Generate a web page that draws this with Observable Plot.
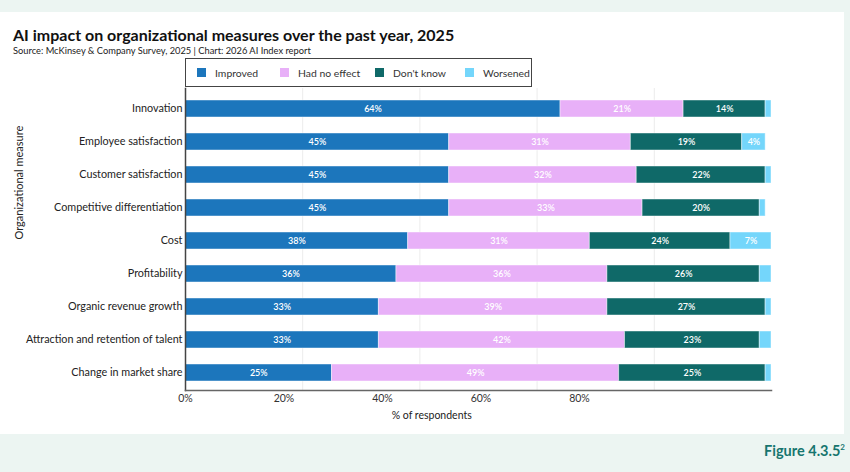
<!DOCTYPE html>
<html>
<head>
<meta charset="utf-8">
<script src="https://cdn.jsdelivr.net/npm/d3@7"></script>
<script src="https://cdn.jsdelivr.net/npm/@observablehq/plot@0.6"></script>
<style>
  html, body { margin: 0; padding: 0; }
  body { width: 850px; height: 472px; background: #ecf5f2; position: relative; overflow: hidden;
         font-family: Lato, "Open Sans", sans-serif; color: #222; }
  #card { position: absolute; left: 0; top: 12px; width: 844px; height: 422px; background: #fff; }
  #title { position: absolute; left: 13px; top: 25px; font-size: 16px; font-weight: 700; color: #111; white-space: nowrap; }
  #subtitle { position: absolute; left: 13px; top: 45px; font-size: 9.3px; color: #222; white-space: nowrap; }
  #legend { position: absolute; left: 185px; top: 58px; width: 347px; height: 29px; border: 1.5px solid #444;
            background: #fff; display: flex; align-items: center; padding-left: 11px; box-sizing: border-box;
            font-size: 10.4px; color: #333; white-space: nowrap; }
  #legend .item { display: flex; align-items: center; flex-shrink: 0; }
  #legend .item:nth-child(1) { width: 83px; }
  #legend .item:nth-child(2) { width: 95px; }
  #legend .item:nth-child(3) { width: 90px; }
  #legend .sw { width: 9px; height: 9px; margin-right: 9px; flex-shrink: 0; }
  #chart { position: absolute; left: 0; top: 0; }
  #figure { position: absolute; right: 5px; top: 442px; font-size: 14.5px; font-weight: 700; color: #17756f; }
  #figure sup { font-size: 8px; }
</style>
</head>
<body>
<div id="card"></div>
<div id="chart"></div>
<div id="title">AI impact on organizational measures over the past year, 2025</div>
<div id="subtitle">Source: McKinsey &amp; Company Survey, 2025 | Chart: 2026 AI Index report</div>
<div id="legend"></div>
<div id="figure">Figure 4.3.5<sup>2</sup></div>
<script>
// Organizational measures, top to bottom
const measures = [
  "Innovation",
  "Employee satisfaction",
  "Customer satisfaction",
  "Competitive differentiation",
  "Cost",
  "Profitability",
  "Organic revenue growth",
  "Attraction and retention of talent",
  "Change in market share"
];
// Response categories and their colours
const responses = ["Improved", "Had no effect", "Don't know", "Worsened"];
const responseColors = ["#1c76bc", "#e8b0f8", "#0f6968", "#74d6fb"];

// Share of respondents (%) per measure, one array per response
const improved   = [64, 45, 45, 45, 38, 36, 33, 33, 25];
const noEffect   = [21, 31, 32, 33, 31, 36, 39, 42, 49];
const dontKnow   = [14, 19, 22, 20, 24, 26, 27, 23, 25];
const worsened   = [ 1,  4,  1,  1,  7,  2,  1,  2,  1];

// Axis ticks and their labels
const gridTicks = [20, 40, 60, 80];
const tickLabels = [0, 20, 40, 60, 80];
// the tick labels are laid out on a 0–119 span across the same width
const tickLabelSpan = 119;

const series = [improved, noEffect, dontKnow, worsened];
const data = [];
measures.forEach((m, i) => {
  responses.forEach((r, j) => data.push({measure: m, response: r, value: series[j][i]}));
});

// legend
const legend = document.getElementById("legend");
responses.forEach((r, i) => {
  const item = document.createElement("div");
  item.className = "item";
  item.innerHTML = `<div class="sw" style="background:${responseColors[i]}"></div><span>${r}</span>`;
  legend.appendChild(item);
});

const stackOpts = {x: "value", y: "measure", fill: "response", order: responses};

const chart = Plot.plot({
  width: 850,
  height: 434,
  marginLeft: 185,
  marginRight: 79,
  marginTop: 88,
  marginBottom: 44,
  style: {fontFamily: "Lato, 'Open Sans', sans-serif", background: "transparent", overflow: "visible"},
  x: {domain: [0, 100], axis: null},
  y: {domain: measures, paddingInner: 0.5, paddingOuter: 0.25, insetTop: 2, axis: null},
  color: {domain: responses, range: responseColors},
  marks: [
    Plot.gridX(gridTicks, {stroke: "#ececec", strokeOpacity: 1}),
    Plot.barX(data, Plot.stackX({...stackOpts, stroke: "#ffffff", strokeOpacity: 0.45, strokeWidth: 1})),
    Plot.text(data, Plot.stackX({
      ...stackOpts,
      z: "response",
      fill: "white",
      text: d => d.value >= 3 ? `${d.value}%` : "",
      fontSize: 9,
      fontWeight: 600
    })),
    Plot.axisY({tickSize: 0, tickPadding: 3, fontSize: 10.8, label: null, color: "#222"}),
    Plot.text(["Organizational measure"], {frameAnchor: "left", rotate: -90, dx: -166, fontSize: 11, fill: "#222"}),
    Plot.frame({anchor: "left", stroke: "#444", strokeWidth: 1.5}),
    Plot.frame({anchor: "bottom", stroke: "#666", strokeWidth: 1.5}),
    Plot.text(tickLabels, {
      x: d => d * 100 / tickLabelSpan,
      frameAnchor: "bottom",
      dy: 11,
      text: d => `${d}%`,
      fontSize: 10.5,
      fill: "#333"
    }),
    Plot.text(["% of respondents"], {
      x: [50 * 100 / tickLabelSpan],
      frameAnchor: "bottom",
      dy: 28,
      fontSize: 10.5,
      fill: "#222"
    })
  ]
});
document.getElementById("chart").appendChild(chart);
</script>
</body>
</html>
